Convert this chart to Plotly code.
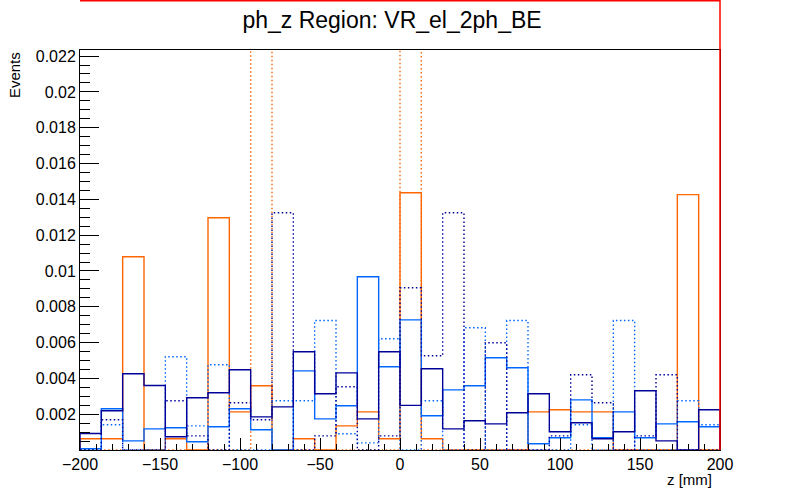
import plotly.graph_objects as go

# 30 bins of z from -200 to 200 mm
edges = [-200 + i * 400 / 30 for i in range(31)]

orange_solid = [0.00063, 0.00063, 0.01079, 0.0, 0.00063, 0.0, 0.01297, 0.00213, 0.00359, 0.0,
                0.00063, 0.0, 0.00135, 0.00213, 0.00063, 0.01437, 0.00063, 0.0, 0.0, 0.0,
                0.0, 0.00213, 0.00225, 0.00213, 0.00213, 0.0, 0.0, 0.0, 0.01426, 0.0]
orange_dotted = [0.0, 0.0, 0.0, 0.0, 0.0, 0.0, 0.0, 0.0, 0.030, 0.0,
                 0.0, 0.0, 0.0, 0.0, 0.0, 0.030, 0.0, 0.0, 0.0, 0.0,
                 0.0, 0.0, 0.0, 0.0, 0.0, 0.0, 0.0, 0.0, 0.0, 0.0]
azure_solid = [0.00007, 0.0023, 0.00051, 0.00118, 0.00124, 0.00046, 0.0013, 0.0023, 0.00113, 0.0,
               0.00442, 0.00174, 0.00247, 0.00968, 0.00465, 0.00727, 0.00191, 0.00336, 0.00359, 0.00515,
               0.00459, 0.00035, 0.00068, 0.0028, 0.00068, 0.00213, 0.00068, 0.00146, 0.00158, 0.0013]
azure_dotted = [0.0, 0.00141, 0.0, 0.0, 0.00521, 0.00135, 0.00476, 0.0, 0.0, 0.00275,
                0.00275, 0.00723, 0.00091, 0.0004, 0.00621, 0.0, 0.00275, 0.0, 0.00683, 0.0,
                0.00723, 0.0, 0.0, 0.00141, 0.0, 0.00723, 0.0, 0.0, 0.00275, 0.00141]
navy_solid = [0.00092, 0.00219, 0.00426, 0.0036, 0.00074, 0.00292, 0.0032, 0.00448, 0.00185, 0.00241,
              0.00549, 0.00314, 0.00431, 0.00174, 0.00549, 0.00249, 0.00454, 0.00118, 0.00163, 0.00146,
              0.00208, 0.00314, 0.00102, 0.00152, 0.00063, 0.00102, 0.00331, 0.00051, 0.0, 0.00225]
navy_dotted = [0.0, 0.00169, 0.0, 0.0, 0.00275, 0.00079, 0.0, 0.00264, 0.00169, 0.01325,
               0.0, 0.00079, 0.00353, 0.0, 0.00079, 0.00906, 0.00526, 0.01325, 0.0, 0.00599,
               0.0, 0.0, 0.00079, 0.0042, 0.00264, 0.0, 0.00079, 0.0042, 0.0, 0.0]

y_ticks = [0.002, 0.004, 0.006, 0.008, 0.010, 0.012, 0.014, 0.016, 0.018, 0.020, 0.022]
y_tick_text = ['0.002', '0.004', '0.006', '0.008', '0.01', '0.012', '0.014', '0.016', '0.018', '0.02', '0.022']

ORANGE = '#ff6600'
AZURE = '#0066ff'
NAVY = '#000099'
FONT = 'Liberation Sans, Arial, sans-serif'
DOTS = '1.5px,2.5px'

series = [
    (orange_dotted, ORANGE, DOTS),
    (orange_solid, ORANGE, 'solid'),
    (azure_dotted, AZURE, DOTS),
    (azure_solid, AZURE, 'solid'),
    (navy_dotted, NAVY, DOTS),
    (navy_solid, NAVY, 'solid'),
]


def step_trace(values, color, dash):
    # outline of a ROOT style histogram: rise at first edge, drop at last edge
    xs = [edges[0]] + edges[:-1] + [edges[-1]]
    ys = [0.0] + list(values) + [0.0]
    return go.Scatter(x=xs, y=ys, mode='lines', line=dict(color=color, width=1.4, dash=dash, shape='hv'),
                      hoverinfo='skip', showlegend=False)


fig = go.Figure()
for vals, col, dash in series:
    fig.add_trace(step_trace(vals, col, dash))

fig.update_layout(
    width=800, height=500,
    margin=dict(l=80, r=80, t=50, b=50),
    paper_bgcolor='white', plot_bgcolor='white',
    font=dict(family=FONT, size=16, color='black'),
    title=dict(text='ph_z Region: VR_el_2ph_BE', x=0.49, xanchor='center', y=0.96, yanchor='middle',
               font=dict(size=23, family=FONT)),
    showlegend=False,
)
fig.update_xaxes(
    range=[-200, 200], tickvals=[-200, -150, -100, -50, 0, 50, 100, 150, 200],
    ticks='inside', ticklen=12, tickwidth=1, tickcolor='black',
    minor=dict(ticks='inside', ticklen=6, dtick=10, tickcolor='black', tickwidth=1),
    showline=True, linecolor='black', linewidth=1, mirror=True,
    showgrid=False, zeroline=False, tickfont=dict(size=16),
)
fig.update_yaxes(
    range=[0, 0.02234], tickvals=y_ticks, ticktext=y_tick_text,
    ticks='inside', ticklen=19, tickwidth=1, tickcolor='black',
    minor=dict(ticks='inside', ticklen=10, dtick=0.0005, tickcolor='black', tickwidth=1),
    showline=True, linecolor='black', linewidth=1, mirror=True,
    showgrid=False, zeroline=False, tickfont=dict(size=16),
)

fig.add_annotation(text='Events', xref='paper', yref='paper', x=-0.103, y=1.0, xanchor='center', yanchor='top',
                   textangle=-90, showarrow=False, font=dict(size=15))
fig.add_annotation(text='z [mm]', xref='paper', yref='paper', x=0.99, y=-0.0725, xanchor='right',
                   yanchor='middle', showarrow=False, font=dict(size=15))

# red pad border on top and right
fig.add_shape(type='line', xref='paper', yref='paper', x0=0, x1=1, y0=1.1235, y1=1.1235,
              line=dict(color='red', width=2))
fig.add_shape(type='line', xref='paper', yref='paper', x0=1, x1=1, y0=0, y1=1.125,
              line=dict(color='red', width=1.5))

# drop the browser's default body margin so the figure sits at the page corner
fig.write_html('out.html', config={'displayModeBar': False},
               post_script="document.body.style.margin='0';")
